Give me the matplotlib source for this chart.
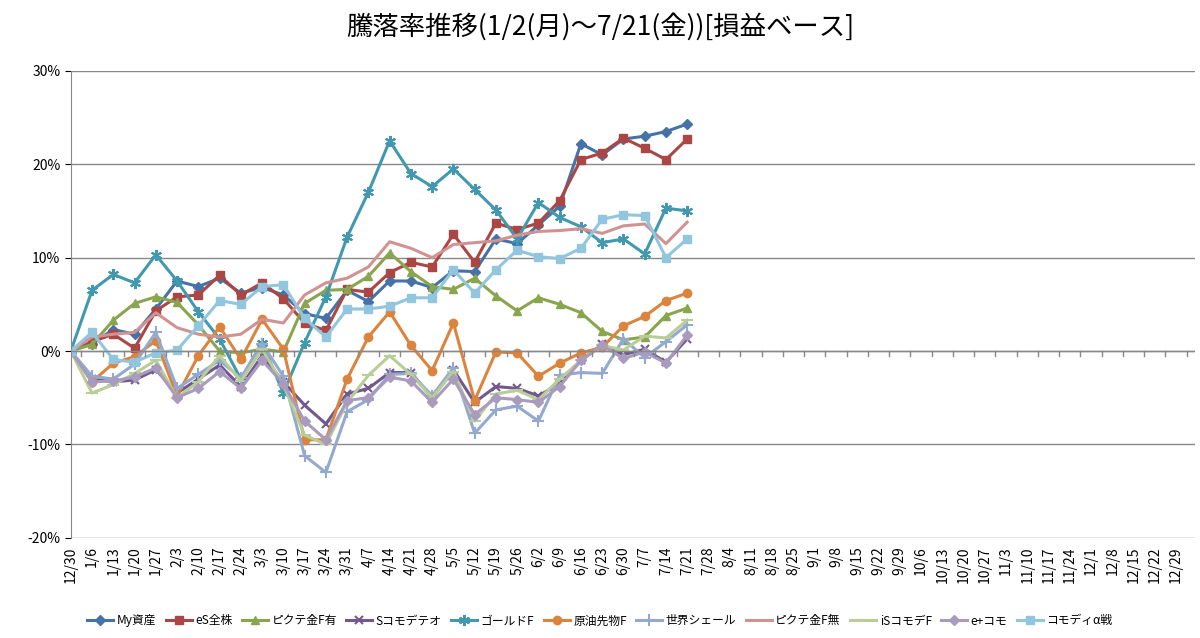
import numpy as np
import matplotlib
matplotlib.use('Agg')
import matplotlib.pyplot as plt
import matplotlib.ticker as mtick

plt.rcParams['font.family'] = ['Noto Sans CJK JP', 'DejaVu Sans']

dates = ['12/30','1/6','1/13','1/20','1/27','2/3','2/10','2/17','2/24','3/3','3/10','3/17','3/24','3/31',
         '4/7','4/14','4/21','4/28','5/5','5/12','5/19','5/26','6/2','6/9','6/16','6/23','6/30','7/7','7/14',
         '7/21','7/28','8/4','8/11','8/18','8/25','9/1','9/8','9/15','9/22','9/29','10/6','10/13','10/20',
         '10/27','11/3','11/10','11/17','11/24','12/1','12/8','12/15','12/22','12/29']

my_asset = [0,0.8,2.3,1.8,4.5,7.5,6.9,7.8,6.2,6.8,6.0,4.0,3.5,6.5,5.3,7.5,7.5,6.8,8.6,8.5,12.0,11.5,13.5,15.5,22.2,21.0,22.7,23.0,23.5,24.3]
es_zen = [0,1.0,1.8,0.3,4.3,5.8,6.0,8.1,6.0,7.3,5.6,3.0,2.2,6.6,6.3,8.4,9.5,9.0,12.5,9.5,13.7,13.0,13.7,16.1,20.5,21.2,22.8,21.7,20.5,22.7]
pictet_ari = [0,0.7,3.3,5.1,5.8,5.2,2.8,0,-0.2,0.2,-0.1,5.1,6.5,6.6,8.0,10.5,8.5,6.9,6.6,7.8,5.9,4.3,5.7,5.0,4.1,2.1,1.2,1.5,3.8,4.6]
s_como = [0,-3.0,-3.3,-3.1,-2.0,-4.5,-3.0,-1.5,-3.8,-0.5,-3.3,-5.8,-7.8,-4.6,-4.0,-2.3,-2.3,-5.0,-2.0,-5.5,-3.8,-4.0,-4.8,-3.5,-1.0,0.7,-0.4,0.2,-1.2,1.3]
gold = [0,6.5,8.2,7.3,10.3,7.5,4.2,1.3,-3.0,0.9,-4.5,0.9,5.8,12.2,17.0,22.5,19.0,17.6,19.5,17.3,15.1,12.0,15.9,14.3,13.3,11.6,12.0,10.4,15.3,15.0]
oil = [0,-3.3,-1.3,-0.6,1.1,-4.8,-0.5,2.6,-0.9,3.4,0.2,-9.5,-9.5,-3.0,1.5,4.2,0.6,-2.1,3.0,-5.3,-0.1,-0.2,-2.7,-1.3,-0.2,0.4,2.7,3.7,5.4,6.2]
shale = [0,-2.7,-3.0,-1.4,2.0,-4.0,-2.5,-1.0,-2.9,0.8,-2.7,-11.2,-13.0,-6.5,-5.2,-2.5,-2.4,-4.8,-1.8,-8.8,-6.3,-5.9,-7.5,-2.6,-2.3,-2.4,1.3,-0.7,1.0,2.8]
pictet_nashi = [0,1.5,1.8,2.0,4.1,2.5,1.8,1.5,1.8,3.4,3.0,6.0,7.3,7.8,9.0,11.7,11.0,10.0,11.4,11.6,11.8,12.4,12.8,12.9,13.1,12.6,13.4,13.6,11.5,13.8]
is_como = [0,-4.5,-3.6,-2.4,-1.0,-5.0,-3.3,-0.5,-3.2,0.2,-3.6,-9.0,-10.0,-5.5,-2.6,-0.5,-2.5,-5.0,-2.2,-7.5,-4.6,-4.2,-5.2,-3.0,-1.0,0.6,0.1,1.6,1.4,3.3]
eplus = [0,-3.3,-3.2,-2.8,-1.8,-5.0,-4.0,-2.2,-4.0,-1.0,-3.5,-7.5,-9.5,-5.3,-5.0,-2.8,-3.2,-5.5,-3.0,-6.8,-5.0,-5.2,-5.5,-3.8,-1.0,0.6,-0.8,-0.1,-1.3,1.7]
alpha = [0,2.0,-0.9,-1.2,-0.2,0.1,2.7,5.4,5.0,6.9,7.1,3.5,1.5,4.5,4.5,4.8,5.7,5.7,8.7,6.2,8.7,10.8,10.1,9.9,11.0,14.1,14.6,14.5,10.0,12.0]

series = [
    ('My資産', my_asset, '#4572A7', 'D', 5),
    ('eS全株', es_zen, '#AA4643', 's', 6),
    ('ピクテ金F有', pictet_ari, '#89A54E', '^', 6),
    ('Sコモデテオ', s_como, '#71588F', 'x', 6),
    ('ゴールドF', gold, '#4198AF', (6, 2, 0), 8),
    ('原油先物F', oil, '#DB843D', 'o', 6),
    ('世界シェール', shale, '#93A9CF', '+', 8),
    ('ピクテ金F無', pictet_nashi, '#D19392', None, 0),
    ('iSコモデF', is_como, '#B9CD96', '_', 8),
    ('e+コモ', eplus, '#A99BBD', 'D', 5),
    ('コモディα戦', alpha, '#92C5DE', 's', 6),
]

fig = plt.figure(figsize=(12, 6.38), dpi=100)
ax = fig.add_axes([0.059, 0.157, 0.937, 0.732])
x = np.arange(len(my_asset))
for name, vals, c, m, ms in series:
    ax.plot(x, vals, color=c, marker=m, markersize=ms, lw=2.2, label=name,
            markeredgewidth=1.5 if m in ('x', '+', '_', (6, 2, 0)) else 1)

ax.set_xlim(0, 52.9)
ax.set_ylim(-20, 30)
ax.set_yticks([-20, -10, 0, 10, 20, 30])
ax.yaxis.set_major_formatter(mtick.FuncFormatter(lambda v, p: f'{int(v)}%'))
ax.set_xticks(np.arange(len(dates)))
ax.set_xticklabels(dates, rotation=90, fontsize=10)
ax.tick_params(axis='y', labelsize=10, length=4)
ax.tick_params(axis='x', length=0, pad=6)
ax.grid(axis='y', color='#888888', lw=1)
ax.set_axisbelow(True)
for s in ['top', 'right']:
    ax.spines[s].set_visible(False)
ax.spines['left'].set_color('#888888')
ax.spines['bottom'].set_visible(False)
ax.axhline(0, color='#888888', lw=1)
for i in range(len(dates)):
    ax.plot([i + 0.5, i + 0.5], [0, -0.5], color='#888888', lw=1, clip_on=False)

fig.suptitle('騰落率推移(1/2(月)～7/21(金))[損益ベース]', fontsize=19, y=0.98)
fig.legend(loc='lower center', ncol=11, fontsize=8.5, frameon=False, bbox_to_anchor=(0.5, 0.0),
           handlelength=2.2, columnspacing=0.8, handletextpad=0.3)
fig.savefig('out.png', dpi=100)
